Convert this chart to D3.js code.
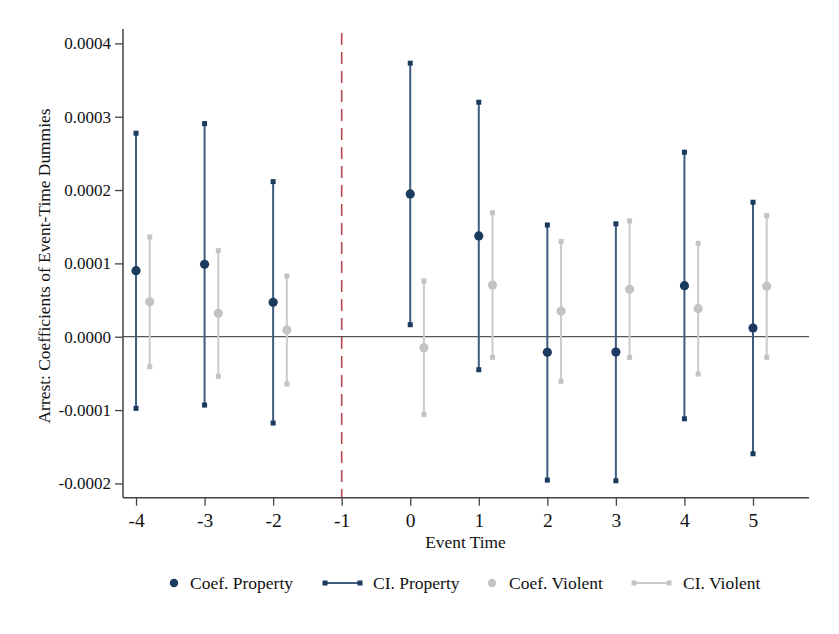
<!DOCTYPE html>
<html>
<head>
<meta charset="utf-8">
<script src="https://cdn.jsdelivr.net/npm/d3@7"></script>
<style>
  html, body { margin: 0; padding: 0; background: #fff; }
  svg { display: block; font-family: "Liberation Serif", "Times New Roman", serif; }
</style>
</head>
<body>
<svg id="chart" width="839" height="634"></svg>
<script>
// ---- data ----
const eventTimes = [-4, -3, -2, 0, 1, 2, 3, 4, 5];
const xTickValues = [-4, -3, -2, -1, 0, 1, 2, 3, 4, 5];
const xTickLabels = ["-4", "-3", "-2", "-1", "0", "1", "2", "3", "4", "5"];
const yTickValues = [-0.0002, -0.0001, 0, 0.0001, 0.0002, 0.0003, 0.0004];
const yTickLabels = ["-0.0002", "-0.0001", "0.0000", "0.0001", "0.0002", "0.0003", "0.0004"];

const propertyCoef = [0.0000900, 0.0000988, 0.0000469, 0.0001947, 0.0001374, -0.0000213, -0.0000209, 0.0000696, 0.0000119];
const propertyLow  = [-0.0000977, -0.0000932, -0.0001177, 0.0000164, -0.0000450, -0.0001955, -0.0001964, -0.0001119, -0.0001596];
const propertyHigh = [0.0002775, 0.0002906, 0.0002115, 0.0003730, 0.0003198, 0.0001524, 0.0001540, 0.0002516, 0.0001834];

const violentCoef = [0.0000477, 0.0000319, 0.0000091, -0.0000150, 0.0000705, 0.0000350, 0.0000647, 0.0000382, 0.0000688];
const violentLow  = [-0.0000409, -0.0000540, -0.0000645, -0.0001059, -0.0000281, -0.0000608, -0.0000281, -0.0000509, -0.0000281];
const violentHigh = [0.0001360, 0.0001173, 0.0000828, 0.0000760, 0.0001690, 0.0001300, 0.0001580, 0.0001274, 0.0001651];

const violentOffset = 0.2;
const eventLine = -1;
const legendItems = ["Coef. Property", "CI. Property", "Coef. Violent", "CI. Violent"];

// ---- layout ----
const pLeft = 123, pRight = 809, pTop = 29, pBottom = 497.7;
const navy = "#1a3a5e", navyLine = "#3d5c7e";
const grayDot = "#c3c3c3", grayLine = "#cbcbcb";
const axisColor = "#444";
const FONT = "'Liberation Serif', serif";

const svg = d3.select("#chart");
const x = d3.scaleLinear().domain([-4.19, 5.817]).range([pLeft, pRight]);
const y = d3.scaleLinear().domain([-0.0002195, 0.0004196]).range([pBottom, pTop]);

// zero line
svg.append("line")
  .attr("x1", pLeft).attr("x2", pRight)
  .attr("y1", y(0)).attr("y2", y(0))
  .attr("stroke", "#555").attr("stroke-width", 1.3);

// event line
svg.append("line")
  .attr("x1", x(eventLine)).attr("x2", x(eventLine))
  .attr("y1", 33).attr("y2", pBottom)
  .attr("stroke", "#b0474a").attr("stroke-width", 1.6)
  .attr("stroke-dasharray", "12,7");

// axes
const yAxis = d3.axisLeft(y).tickValues(yTickValues)
  .tickFormat((d, i) => yTickLabels[i]).tickSize(8).tickPadding(4);
const gy = svg.append("g").attr("transform", `translate(${pLeft},0)`).call(yAxis);
gy.select(".domain").remove();
gy.selectAll(".tick line").attr("stroke", axisColor).attr("stroke-width", 1.3);
gy.selectAll(".tick text").attr("fill", "#111").style("font-size", "17px")
  .style("font-family", FONT);
svg.append("line").attr("x1", pLeft).attr("x2", pLeft).attr("y1", pTop).attr("y2", pBottom)
  .attr("stroke", axisColor).attr("stroke-width", 1.5);

const xAxis = d3.axisBottom(x).tickValues(xTickValues)
  .tickFormat((d, i) => xTickLabels[i]).tickSize(8).tickPadding(7);
const gx = svg.append("g").attr("transform", `translate(0,${pBottom})`).call(xAxis);
gx.select(".domain").remove();
gx.selectAll(".tick line").attr("stroke", axisColor).attr("stroke-width", 1.3);
gx.selectAll(".tick text").attr("fill", "#111").style("font-size", "19.5px")
  .style("font-family", FONT);
svg.append("line").attr("x1", pLeft).attr("x2", pRight).attr("y1", pBottom).attr("y2", pBottom)
  .attr("stroke", axisColor).attr("stroke-width", 1.5);

// axis titles
svg.append("text")
  .attr("transform", `translate(50,266) rotate(-90)`)
  .attr("text-anchor", "middle").attr("fill", "#111")
  .style("font-size", "17.4px").style("font-family", FONT)
  .text("Arrest: Coefficients of Event-Time Dummies");
svg.append("text")
  .attr("x", 465.5).attr("y", 548)
  .attr("text-anchor", "middle").attr("fill", "#111")
  .style("font-size", "17.4px").style("font-family", FONT)
  .text("Event Time");

// series
function drawSeries(offset, coef, low, high, lineColor, dotColor, sq) {
  const g = svg.append("g");
  const idx = d3.range(eventTimes.length);
  g.selectAll("line.ci").data(idx).enter().append("line")
    .attr("x1", i => x(eventTimes[i] + offset)).attr("x2", i => x(eventTimes[i] + offset))
    .attr("y1", i => y(low[i])).attr("y2", i => y(high[i]))
    .attr("stroke", lineColor).attr("stroke-width", 2);
  const ends = [];
  idx.forEach(i => { ends.push([eventTimes[i] + offset, low[i]]); ends.push([eventTimes[i] + offset, high[i]]); });
  g.selectAll("rect").data(ends).enter().append("rect")
    .attr("x", d => x(d[0]) - sq / 2).attr("y", d => y(d[1]) - sq / 2)
    .attr("width", sq).attr("height", sq).attr("fill", dotColor);
  g.selectAll("circle").data(idx).enter().append("circle")
    .attr("cx", i => x(eventTimes[i] + offset)).attr("cy", i => y(coef[i]))
    .attr("r", 4.6).attr("fill", dotColor);
}
drawSeries(0, propertyCoef, propertyLow, propertyHigh, navyLine, navy, 5);
drawSeries(violentOffset, violentCoef, violentLow, violentHigh, grayLine, grayDot, 5);

// legend
const ly = 583;
const lg = svg.append("g").style("font-size", "17.5px").style("font-family", FONT).attr("fill", "#111");
lg.append("circle").attr("cx", 174).attr("cy", ly).attr("r", 4.2).attr("fill", navy);
lg.append("text").attr("x", 190).attr("y", ly + 6).text(legendItems[0]);
lg.append("line").attr("x1", 325).attr("x2", 360).attr("y1", ly).attr("y2", ly)
  .attr("stroke", navyLine).attr("stroke-width", 2);
lg.append("rect").attr("x", 322.5).attr("y", ly - 2.5).attr("width", 5).attr("height", 5).attr("fill", navy);
lg.append("rect").attr("x", 357.5).attr("y", ly - 2.5).attr("width", 5).attr("height", 5).attr("fill", navy);
lg.append("text").attr("x", 373).attr("y", ly + 6).text(legendItems[1]);
lg.append("circle").attr("cx", 492).attr("cy", ly).attr("r", 4.2).attr("fill", grayDot);
lg.append("text").attr("x", 509).attr("y", ly + 6).text(legendItems[2]);
lg.append("line").attr("x1", 634).attr("x2", 669).attr("y1", ly).attr("y2", ly)
  .attr("stroke", grayLine).attr("stroke-width", 2);
lg.append("rect").attr("x", 631.5).attr("y", ly - 2.5).attr("width", 5).attr("height", 5).attr("fill", grayDot);
lg.append("rect").attr("x", 666.5).attr("y", ly - 2.5).attr("width", 5).attr("height", 5).attr("fill", grayDot);
lg.append("text").attr("x", 683).attr("y", ly + 6).text(legendItems[3]);
</script>
</body>
</html>
